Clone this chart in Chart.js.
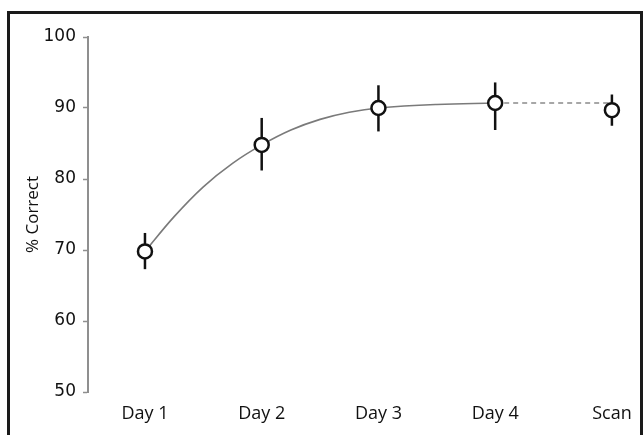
<!DOCTYPE html>
<html>
<head>
<meta charset="utf-8">
<script src="https://cdn.jsdelivr.net/npm/chart.js@4.4.1/dist/chart.umd.min.js"></script>
<style>
  html, body { margin: 0; padding: 0; background: #fff; }
  #wrap { position: relative; width: 644px; height: 435px; overflow: hidden; }
  #frame {
    position: absolute; left: 7px; top: 11px; right: 1px; bottom: -10px;
    border: 3px solid #1a1a1a; pointer-events: none;
  }
  canvas { position: absolute; left: 0; top: 0; }
</style>
</head>
<body>
<div id="wrap">
  <canvas id="accuracy-chart" width="644" height="435"></canvas>
  <div id="frame"></div>
</div>
<script>
  // Sessions and their positions on the x axis.
  const sessionLabels = [ 'Day 1', 'Day 2', 'Day 3', 'Day 4', 'Scan' ];
  const sessionPos = [ 1, 2, 3, 4, 5 ];

  // Mean % correct and error bar ends.
  const meanCorrect = [ 69.8, 84.8, 90.0, 90.7, 89.7 ];
  const errLow = [ 67.3, 81.2, 86.7, 86.9, 87.5 ];
  const errHigh = [ 72.4, 88.6, 93.2, 93.6, 91.9 ];

  // Fitted learning curve (Day 1 to Day 4).
  const fitX = [ 1, 1.25, 1.5, 1.75, 2, 2.25, 2.5, 2.75, 3, 3.5, 4 ];
  const fitY = [ 69.8, 74.7, 78.9, 82.2, 84.8, 86.9, 88.4, 89.4, 90.0, 90.5, 90.7 ];

  // Dashed extension from Day 4 to Scan.
  const extX = [ 4, 5 ];
  const extY = [ 90.7, 90.7 ];

  const yTicks = [ 50, 60, 70, 80, 90, 100 ];

  /**
   * Draw vertical error bars behind the markers.
   */
  const errorBars = {
    id: 'errorBars',
    beforeDatasetsDraw( chart ) {
      const ctx = chart.ctx;
      const xs = chart.scales.x;
      const ys = chart.scales.y;
      ctx.save();
      ctx.strokeStyle = '#111';
      ctx.lineWidth = 2.5;
      sessionPos.forEach( ( p, i ) => {
        const x = xs.getPixelForValue( p );
        ctx.beginPath();
        ctx.moveTo( x, ys.getPixelForValue( errLow[ i ] ) );
        ctx.lineTo( x, ys.getPixelForValue( errHigh[ i ] ) );
        ctx.stroke();
      } );
      ctx.restore();
    }
  };

  const ctx = document.getElementById( 'accuracy-chart' ).getContext( '2d' );

  new Chart( ctx, {
    type: 'line',
    data: {
      datasets: [
        {
          label: 'Mean',
          data: sessionPos.map( ( p, i ) => ( { x: p, y: meanCorrect[ i ] } ) ),
          showLine: false,
          pointRadius: 7,
          pointBorderWidth: 2.5,
          pointBackgroundColor: '#fff',
          pointBorderColor: '#111',
        },
        {
          label: 'Fit',
          data: fitX.map( ( x, i ) => ( { x: x, y: fitY[ i ] } ) ),
          borderColor: '#7a7a7a',
          borderWidth: 1.6,
          pointRadius: 0,
          tension: 0.4,
        },
        {
          label: 'Extension',
          data: extX.map( ( x, i ) => ( { x: x, y: extY[ i ] } ) ),
          borderColor: '#8a8a8a',
          borderWidth: 1.6,
          borderDash: [ 5, 4 ],
          pointRadius: 0,
        },
      ],
    },
    options: {
      responsive: false,
      animation: false,
      layout: {
        padding: { left: 20, top: 37, right: 14, bottom: 0 },
      },
      plugins: {
        legend: { display: false },
        tooltip: { enabled: false },
      },
      scales: {
        x: {
          type: 'linear',
          min: 0.512,
          max: 5.155,
          afterBuildTicks: function ( scale ) {
            scale.ticks = sessionPos.map( ( v ) => ( { value: v } ) );
          },
          afterFit: function ( scale ) {
            scale.height = 43;
          },
          grid: { display: false },
          border: { display: false },
          ticks: {
            padding: 3,
            color: '#111',
            font: { family: 'Open Sans', size: 18 },
            callback: function ( value ) {
              const idx = sessionPos.indexOf( value );
              return idx >= 0 ? sessionLabels[ idx ] : '';
            },
          },
        },
        y: {
          min: 50,
          max: 100,
          afterBuildTicks: function ( scale ) {
            scale.ticks = yTicks.map( ( v ) => ( { value: v } ) );
          },
          afterFit: function ( scale ) {
            scale.width = 68;
          },
          border: { display: true, color: '#8f8f8f', width: 2 },
          grid: {
            drawOnChartArea: false,
            drawTicks: true,
            tickLength: 5,
            tickWidth: 1.5,
            color: '#8f8f8f',
          },
          ticks: {
            padding: 7,
            color: '#111',
            font: { family: 'DejaVu Sans', size: 17 },
          },
          title: {
            display: true,
            text: '% Correct',
            color: '#111',
            padding: { top: 3, bottom: 0 },
            font: { family: 'Open Sans', size: 17 },
          },
        },
      },
    },
    plugins: [ errorBars ],
  } );
</script>
</body>
</html>
